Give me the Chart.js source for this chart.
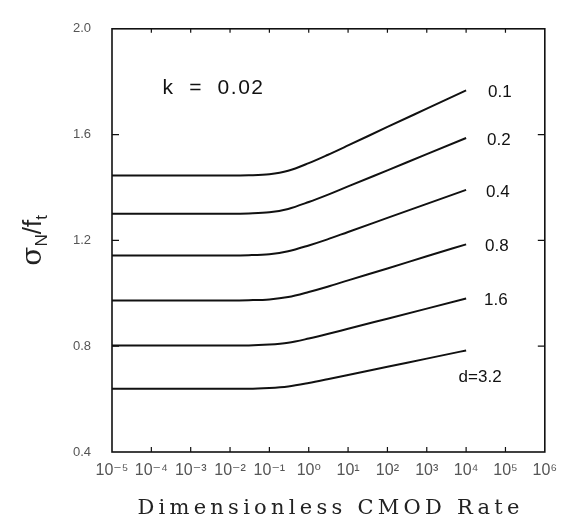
<!DOCTYPE html>
<html>
<head>
<meta charset="utf-8">
<script src="https://cdn.jsdelivr.net/npm/chart.js@4.4.1/dist/chart.umd.min.js"></script>
<style>
  html, body { margin: 0; padding: 0; background: #fff; }
  #wrap { width: 566px; height: 530px; }
</style>
</head>
<body>
<div id="wrap"><canvas id="chart" width="566" height="530"></canvas></div>
<script>
  // dimensionless CMOD rate (x) and sigma_N / f_t for each size d
  const rates = [1e-5, 1e-4, 1e-3, 1e-2, 0.03, 0.1, 0.3, 1, 3, 10, 100, 1000, 1e4];
  const d01 = [1.445, 1.445, 1.445, 1.445, 1.446, 1.450, 1.463, 1.492, 1.523, 1.559, 1.629, 1.698, 1.767];
  const d02 = [1.301, 1.301, 1.301, 1.301, 1.302, 1.306, 1.319, 1.345, 1.372, 1.404, 1.465, 1.526, 1.587];
  const d04 = [1.143, 1.143, 1.143, 1.143, 1.144, 1.148, 1.159, 1.181, 1.204, 1.232, 1.285, 1.338, 1.391];
  const d08 = [0.973, 0.973, 0.973, 0.973, 0.974, 0.977, 0.986, 1.005, 1.025, 1.049, 1.094, 1.140, 1.185];
  const d16 = [0.803, 0.803, 0.803, 0.803, 0.803, 0.806, 0.813, 0.829, 0.846, 0.866, 0.904, 0.942, 0.980];
  const d32 = [0.639, 0.639, 0.639, 0.639, 0.639, 0.642, 0.648, 0.661, 0.675, 0.691, 0.722, 0.753, 0.784];
  const curveNames = ["0.1", "0.2", "0.4", "0.8", "1.6", "d=3.2"];

  const xTickValues = [1e-5, 1e-4, 1e-3, 1e-2, 1e-1, 1, 10, 100, 1000, 1e4, 1e5, 1e6];
  const xTickLabels = ["10⁻⁵", "10⁻⁴", "10⁻³", "10⁻²", "10⁻¹", "10⁰", "10¹", "10²", "10³", "10⁴", "10⁵", "10⁶"];
  const yTickValues = [0.4, 0.8, 1.2, 1.6, 2.0];
  const yTickLabels = ["0.4", "0.8", "1.2", "1.6", "2.0"];

  const kText = "k  =  0.02";
  const kAt = { x: 3.8e-3, y: 1.775 };
  const xTitle = "Dimensionless CMOD Rate";

  const SANS = "'Liberation Sans', 'DejaVu Sans', sans-serif";
  const SERIF = "'DejaVu Serif', 'Liberation Serif', serif";

  const series = [d01, d02, d04, d08, d16, d32];

  const frame = {
    id: "frame",
    afterDraw(chart) {
      const { ctx, chartArea: a, scales } = chart;
      const xs = scales.x, ys = scales.y;
      ctx.save();

      // box
      ctx.strokeStyle = "#111";
      ctx.lineWidth = 1.6;
      ctx.strokeRect(a.left, a.top, a.right - a.left, a.bottom - a.top);

      // inward tick marks
      ctx.lineWidth = 1.2;
      ctx.beginPath();
      xTickValues.slice(1, -1).forEach((v) => {
        const x = xs.getPixelForValue(v);
        ctx.moveTo(x, a.bottom); ctx.lineTo(x, a.bottom - 5);
        ctx.moveTo(x, a.top); ctx.lineTo(x, a.top + 4);
      });
      yTickValues.slice(1, -1).forEach((v) => {
        const y = ys.getPixelForValue(v);
        ctx.moveTo(a.left, y); ctx.lineTo(a.left + 7, y);
        ctx.moveTo(a.right, y); ctx.lineTo(a.right - 7, y);
      });
      ctx.stroke();

      // curve labels, next to the end of each line
      ctx.fillStyle = "#111";
      ctx.font = "17px " + SANS;
      ctx.textBaseline = "middle";
      series.forEach((vals, i) => {
        const n = vals.length - 1;
        const x = xs.getPixelForValue(rates[n]);
        const y = ys.getPixelForValue(vals[n]);
        if (i === series.length - 1) {
          ctx.textAlign = "center";
          ctx.fillText(curveNames[i], x + 14, y + 27);
        } else {
          ctx.textAlign = "left";
          ctx.fillText(curveNames[i], x + 22 - i, y + 2);
        }
      });

      // k = 0.02
      ctx.font = "21px " + SANS;
      ctx.letterSpacing = "1.5px";
      ctx.textAlign = "center";
      ctx.fillText(kText, xs.getPixelForValue(kAt.x), ys.getPixelForValue(kAt.y));
      ctx.letterSpacing = "0px";

      // x title
      ctx.font = "21px " + SERIF;
      ctx.fillStyle = "#222";
      const plain = ctx.measureText(xTitle).width;
      const spacing = Math.max(0, (382 - plain) / (xTitle.length - 1));
      ctx.letterSpacing = spacing.toFixed(2) + "px";
      ctx.textAlign = "center";
      ctx.fillText(xTitle, (a.left + a.right) / 2 + spacing / 2, 509);
      ctx.letterSpacing = "0px";

      // y title: sigma_N / f_t
      ctx.translate(32, (a.top + a.bottom) / 2);
      ctx.rotate(-Math.PI / 2);
      ctx.textBaseline = "alphabetic";
      ctx.textAlign = "left";
      const parts = [
        { t: "σ", f: "28px " + SERIF, dy: 9 },
        { t: "N", f: "17px " + SANS, dy: 15 },
        { t: "/", f: "26px " + SANS, dy: 9 },
        { t: "f", f: "26px " + SANS, dy: 9 },
        { t: "t", f: "17px " + SANS, dy: 15 }
      ];
      let total = 0;
      parts.forEach((p) => { ctx.font = p.f; p.w = ctx.measureText(p.t).width; total += p.w; });
      let px = -total / 2;
      parts.forEach((p) => {
        ctx.font = p.f;
        ctx.fillText(p.t, px, p.dy);
        px += p.w;
      });
      ctx.restore();
    }
  };

  new Chart(document.getElementById("chart"), {
    type: "line",
    data: {
      labels: rates,
      datasets: series.map((vals, i) => ({
        label: curveNames[i],
        data: vals.map((v, j) => ({ x: rates[j], y: v })),
        borderColor: "#111",
        borderWidth: 2,
        pointRadius: 0,
        fill: false,
        cubicInterpolationMode: "monotone"
      }))
    },
    options: {
      responsive: false,
      animation: false,
      layout: { padding: { top: 22, right: 15, left: 0, bottom: 0 } },
      plugins: { legend: { display: false }, tooltip: { enabled: false } },
      scales: {
        x: {
          type: "logarithmic",
          min: 1e-5,
          max: 1e6,
          grid: { display: false, drawTicks: false },
          border: { display: false },
          afterBuildTicks: (s) => { s.ticks = xTickValues.map((v) => ({ value: v })); },
          afterFit: (s) => { s.height = 78; },
          ticks: {
            autoSkip: false,
            maxRotation: 0,
            minRotation: 0,
            padding: 9,
            color: "#555",
            font: { family: SANS, size: 16 },
            callback: (v, i) => xTickLabels[i]
          }
        },
        y: {
          min: 0.4,
          max: 2.0,
          grid: { display: false, drawTicks: false },
          border: { display: false },
          afterBuildTicks: (s) => { s.ticks = yTickValues.map((v) => ({ value: v })); },
          afterFit: (s) => { s.width = 112; },
          ticks: {
            padding: 21,
            color: "#555",
            font: { family: SANS, size: 13 },
            callback: (v, i) => yTickLabels[i]
          }
        }
      }
    },
    plugins: [frame]
  });
</script>
</body>
</html>
